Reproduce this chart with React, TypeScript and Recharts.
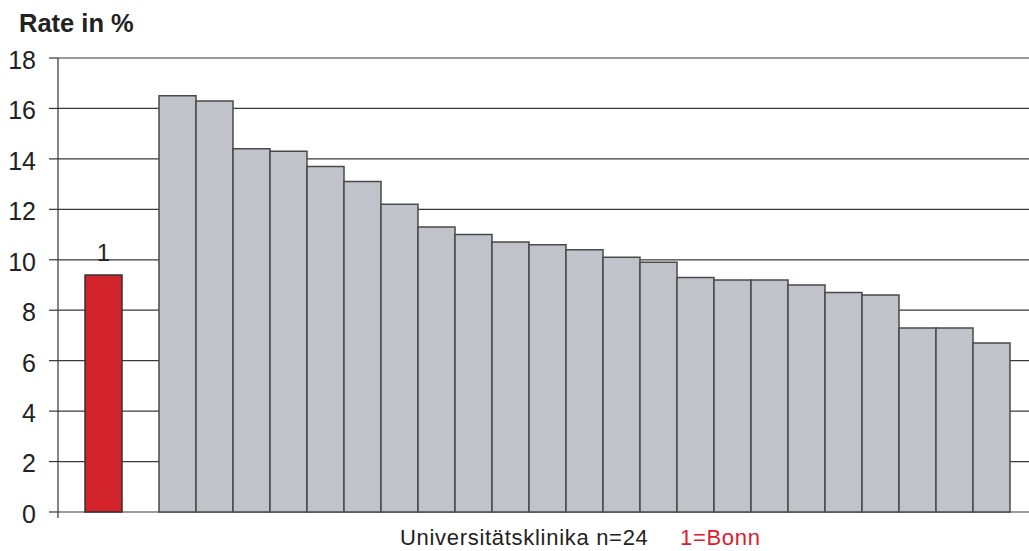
import { BarChart, Bar, XAxis, YAxis, CartesianGrid, Cell, LabelList } from 'recharts';

// rates per university hospital, Bonn first, then an empty slot, then the others sorted
const hospitals = ['Bonn', '', 'K2', 'K3', 'K4', 'K5', 'K6', 'K7', 'K8', 'K9', 'K10', 'K11', 'K12', 'K13', 'K14', 'K15', 'K16', 'K17', 'K18', 'K19', 'K20', 'K21', 'K22', 'K23', 'K24'];
const rates = [9.4, null, 16.5, 16.3, 14.4, 14.3, 13.7, 13.1, 12.2, 11.3, 11.0, 10.7, 10.6, 10.4, 10.1, 9.9, 9.3, 9.2, 9.2, 9.0, 8.7, 8.6, 7.3, 7.3, 6.7];
const barLabels = ['1', '', '', '', '', '', '', '', '', '', '', '', '', '', '', '', '', '', '', '', '', '', '', '', ''];
const yTicks = [0, 2, 4, 6, 8, 10, 12, 14, 16, 18];

const data = hospitals.map((name, i) => ({ name, rate: rates[i], label: barLabels[i] }));

const FONT = '"Liberation Sans", Arial, sans-serif';

export default function App() {
  return (
    <div style={{ position: 'absolute', left: 0, top: 0, width: 1029, height: 551, background: '#fff' }}>
      <BarChart
        width={1029}
        height={551}
        data={data}
        margin={{ top: 58, right: 0, bottom: 0, left: 0 }}
        barCategoryGap={0}
      >
        <CartesianGrid vertical={false} stroke="#3a3a3a" strokeWidth={1.2} />
        <XAxis dataKey="name" tick={false} tickLine={false} axisLine={false} height={39} padding={{ left: 27, right: 19 }} />
        <YAxis
          domain={[0, 18]}
          ticks={yTicks}
          width={58}
          tickSize={9}
          tickMargin={13}
          stroke="#333"
          tick={{ fontSize: 25, fill: '#222', fontFamily: FONT, dy: 2 }}
          axisLine={{ stroke: '#333', strokeWidth: 1.2 }}
          tickLine={{ stroke: '#333', strokeWidth: 1.2 }}
        />
        <Bar dataKey="rate" isAnimationActive={false} stroke="#4a4a4a" strokeWidth={1.5}>
          {data.map((d, i) => (
            <Cell key={i} fill={i === 0 ? '#d2232a' : '#c0c3ca'} stroke={i === 0 ? '#333' : '#4a4a4a'} />
          ))}
          <LabelList dataKey="label" position="top" offset={14} fill="#222" fontSize={24} fontFamily={FONT} />
        </Bar>
      </BarChart>
      <svg width={1029} height={551} style={{ position: 'absolute', left: 0, top: 0, pointerEvents: 'none' }}>
        <line x1={58} y1={512} x2={58} y2={518} stroke="#333" strokeWidth={1.2} />
        <text x={19} y={32} fontFamily={FONT} fontWeight="bold" fontSize={25.5} fill="#222">Rate in %</text>
        <text x={400} y={545} fontFamily={FONT} fontSize={22} fill="#222" letterSpacing={0.7}>Universitätsklinika n=24</text>
        <text x={680} y={545} fontFamily={FONT} fontSize={22} fill="#d9202e" letterSpacing={0.7}>1=Bonn</text>
      </svg>
    </div>
  );
}
